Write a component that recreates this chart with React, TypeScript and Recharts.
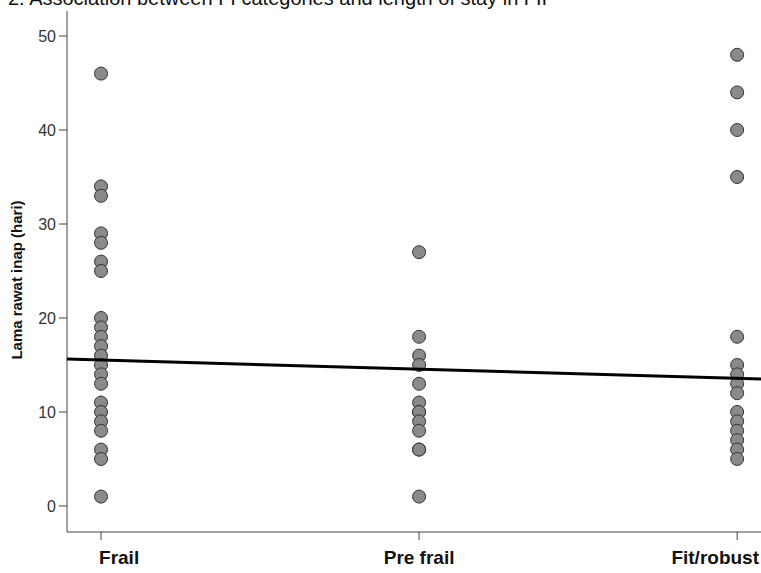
import React from "react";
import { ScatterChart, Scatter, XAxis, YAxis } from "recharts";

const categories = ["Frail", "Pre frail", "Fit/robust"];
const frailValues = [46, 34, 33, 29, 28, 26, 25, 20, 19, 18, 17, 16, 15, 14, 13, 11, 10, 9, 8, 6, 5, 1];
const preFrailValues = [27, 18, 16, 15, 13, 11, 10, 10, 9, 8, 6, 6, 1];
const fitValues = [48, 44, 40, 35, 18, 15, 14, 13, 12, 10, 9, 8, 7, 6, 5];
const yTicks = [0, 10, 20, 30, 40, 50];
// fitted line end points (x in category units)
const fitLine = [
  { x: 0.893, y: 15.64 },
  { x: 3.075, y: 13.5 },
];

const points = [
  ...frailValues.map((y) => ({ x: 1, y })),
  ...preFrailValues.map((y) => ({ x: 2, y })),
  ...fitValues.map((y) => ({ x: 3, y })),
];

const font = "'Liberation Sans', Arial, sans-serif";

const CategoryTick = (props: any) => {
  const { x, y, payload, index } = props;
  const anchor = index === 0 ? "start" : index === 2 ? "end" : "middle";
  const tx = index === 0 ? x - 2 : index === 2 ? 759 : x;
  return (
    <text x={tx} y={y + 22} textAnchor={anchor} fontSize={19} fontWeight="bold" fill="#111" fontFamily={font}>
      {categories[payload.value - 1]}
    </text>
  );
};

const Dot = (props: any) => {
  const { cx, cy } = props;
  return <circle cx={cx} cy={cy} r={6.5} fill="#8a8a8a" stroke="#333" strokeWidth={1} />;
};

const YTitle = () => (
  <text
    transform="translate(22,280) rotate(-90)"
    textAnchor="middle"
    fontSize={15}
    fontWeight="bold"
    fill="#111"
    fontFamily={font}
  >
    Lama rawat inap (hari)
  </text>
);

export default function App() {
  return (
    <div style={{ position: "absolute", left: 0, top: 0, width: 761, height: 573, overflow: "hidden", fontFamily: font }}>
      <div style={{ position: "absolute", left: 8, top: -13, fontSize: 20, color: "#111", whiteSpace: "nowrap" }}>
        2. Association between FI categories and length of stay in FIF
      </div>
      <ScatterChart width={761} height={573} margin={{ top: 11, right: 0, left: 0, bottom: 0 }}>
        <XAxis
          xAxisId="b"
          type="number"
          dataKey="x"
          domain={[0.893, 3.075]}
          allowDataOverflow
          ticks={[1, 2, 3]}
          height={41}
          stroke="#444"
          tickSize={8}
          tick={<CategoryTick />}
        />
        <XAxis
          xAxisId="t"
          orientation="top"
          type="number"
          dataKey="x"
          domain={[0.893, 3.075]}
          tick={false}
          tickLine={false}
          height={0}
          stroke="#444"
        />
        <YAxis
          type="number"
          dataKey="y"
          domain={[-2.77, 52.66]}
          allowDataOverflow
          ticks={yTicks}
          width={67}
          stroke="#444"
          tickSize={8}
          tickMargin={3}
          tick={{ fill: "#333", fontSize: 16, fontFamily: font }}
          label={<YTitle />}
        />
        <Scatter xAxisId="b" data={points} shape={<Dot />} isAnimationActive={false} />
        <Scatter
          xAxisId="b"
          data={fitLine}
          line={{ stroke: "#000", strokeWidth: 3 }}
          shape={() => null}
          isAnimationActive={false}
        />
      </ScatterChart>
    </div>
  );
}
